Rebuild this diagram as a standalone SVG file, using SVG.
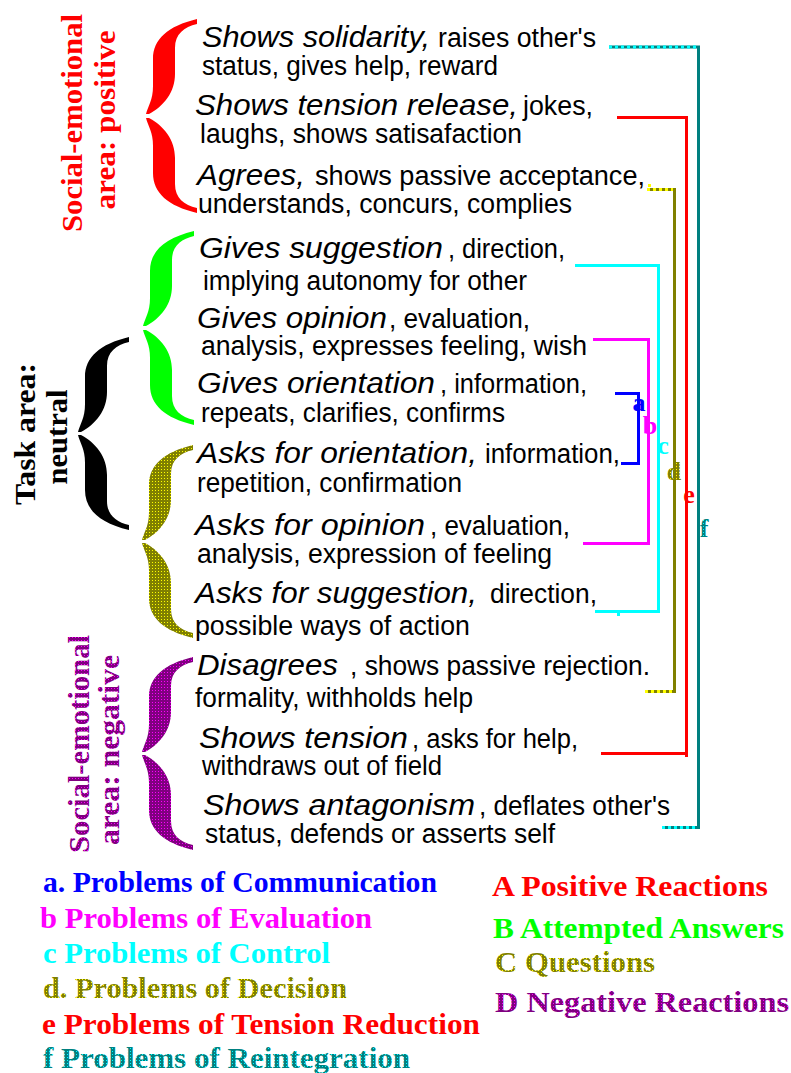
<svg xmlns="http://www.w3.org/2000/svg" xmlns:xlink="http://www.w3.org/1999/xlink" width="791" height="1073" viewBox="0 0 791 1073">
<style>
.i{font-family:"Liberation Sans",Arial,sans-serif;font-style:italic;font-size:30px;fill:#000}
.r{font-family:"Liberation Sans",Arial,sans-serif;font-size:27px;fill:#000}
.lg{font-family:"Liberation Serif","Times New Roman",serif;font-weight:bold;font-size:30px}
.vl{font-family:"Liberation Serif","Times New Roman",serif;font-weight:bold;font-size:29px}
.lt{font-family:"Liberation Serif","Times New Roman",serif;font-weight:bold;font-size:26px;text-anchor:middle}
.br{fill:none;stroke-width:3;stroke-linejoin:miter;stroke-linecap:butt}
</style>
<defs>
<pattern id="pOlive" width="3" height="3" patternUnits="userSpaceOnUse"><rect width="3" height="3" fill="#808000"/><rect x="1" y="1" width="1" height="1" fill="#FFFF00"/></pattern>
<pattern id="pTeal" width="3" height="3" patternUnits="userSpaceOnUse"><rect width="3" height="3" fill="#008080"/><rect x="1" y="1" width="1" height="1" fill="#00FFFF"/></pattern>
<pattern id="pPurple" width="3" height="3" patternUnits="userSpaceOnUse"><rect width="3" height="3" fill="#800080"/><rect x="1" y="1" width="1" height="1" fill="#FF00FF"/></pattern>
<path id="half" d="M0,0 C2,-8 7,-14 7,-28 L7,-55 C7,-75 22,-88 51,-95 L51,-90 C38,-87 29,-80 29,-66 L29,-40 C29,-22 18,-8 3,0 Z"/>
</defs>
<rect width="791" height="1073" fill="#fff"/>

<!-- braces -->
<g id="brace-red" fill="#FF0000" transform="translate(146,116)"><use xlink:href="#half" transform="translate(0,-2)"/><use xlink:href="#half" transform="translate(0,2) scale(1,-1)"/></g>
<g id="brace-green" fill="#00FF00" transform="translate(143,328)"><use xlink:href="#half" transform="translate(0,-2)"/><use xlink:href="#half" transform="translate(0,2) scale(1,-1)"/></g>
<g id="brace-black" fill="#000000" transform="translate(78,433.5)"><use xlink:href="#half" transform="translate(0,-1.5)"/><use xlink:href="#half" transform="translate(0,1.5) scale(1,-1)"/></g>
<g id="brace-olive" fill="url(#pOlive)" transform="translate(142,541.5)"><use xlink:href="#half" transform="translate(0,-1.5)"/><use xlink:href="#half" transform="translate(0,1.5) scale(1,-1)"/></g>
<g id="brace-purple" fill="url(#pPurple)" transform="translate(142,753.5)"><use xlink:href="#half" transform="translate(0,-1.5)"/><use xlink:href="#half" transform="translate(0,1.5) scale(1,-1)"/></g>

<!-- vertical area labels -->
<g id="label-positive" fill="#FF0000">
<text class="vl" transform="translate(82,123) rotate(-90)" text-anchor="middle" textLength="218" lengthAdjust="spacingAndGlyphs">Social-emotional</text>
<text class="vl" transform="translate(115,120) rotate(-90)" text-anchor="middle" textLength="179" lengthAdjust="spacingAndGlyphs">area: positive</text>
</g>
<g id="label-task" fill="#000000">
<text class="vl" style="font-size:30px" transform="translate(35,434) rotate(-90)" text-anchor="middle" textLength="142" lengthAdjust="spacingAndGlyphs">Task area:</text>
<text class="vl" style="font-size:30px" transform="translate(67,437) rotate(-90)" text-anchor="middle" textLength="95" lengthAdjust="spacingAndGlyphs">neutral</text>
</g>
<g id="label-negative" fill="url(#pPurple)">
<text class="vl" transform="translate(89,744) rotate(-90)" text-anchor="middle" textLength="218" lengthAdjust="spacingAndGlyphs">Social-emotional</text>
<text class="vl" transform="translate(119,750) rotate(-90)" text-anchor="middle" textLength="190" lengthAdjust="spacingAndGlyphs">area: negative</text>
</g>

<!-- category rows -->
<g id="row1"><text class="i" x="202" y="47" textLength="228" lengthAdjust="spacingAndGlyphs">Shows solidarity,</text><text class="r" x="438" y="47" textLength="158" lengthAdjust="spacingAndGlyphs">raises other's</text><text class="r" x="202" y="75" textLength="296" lengthAdjust="spacingAndGlyphs">status, gives help, reward</text></g>
<g id="row2"><text class="i" x="195" y="115" textLength="323" lengthAdjust="spacingAndGlyphs">Shows tension release,</text><text class="r" x="523" y="115" textLength="70" lengthAdjust="spacingAndGlyphs">jokes,</text><text class="r" x="200" y="143" textLength="322" lengthAdjust="spacingAndGlyphs">laughs, shows satisafaction</text></g>
<g id="row3"><text class="i" x="197" y="185" textLength="108" lengthAdjust="spacingAndGlyphs">Agrees,</text><text class="r" x="315" y="185" textLength="330" lengthAdjust="spacingAndGlyphs">shows passive acceptance,</text><text class="r" x="198" y="213" textLength="374" lengthAdjust="spacingAndGlyphs">understands, concurs, complies</text></g>
<g id="row4"><text class="i" x="199" y="258" textLength="244" lengthAdjust="spacingAndGlyphs">Gives suggestion</text><text class="r" x="448" y="258" textLength="117" lengthAdjust="spacingAndGlyphs">, direction,</text><text class="r" x="203" y="290" textLength="324" lengthAdjust="spacingAndGlyphs">implying autonomy for other</text></g>
<g id="row5"><text class="i" x="197" y="328" textLength="190" lengthAdjust="spacingAndGlyphs">Gives opinion</text><text class="r" x="389" y="328" textLength="141" lengthAdjust="spacingAndGlyphs">, evaluation,</text><text class="r" x="201" y="355" textLength="386" lengthAdjust="spacingAndGlyphs">analysis, expresses feeling, wish</text></g>
<g id="row6"><text class="i" x="197" y="393" textLength="238" lengthAdjust="spacingAndGlyphs">Gives orientation</text><text class="r" x="440" y="393" textLength="147" lengthAdjust="spacingAndGlyphs">, information,</text><text class="r" x="201" y="422" textLength="304" lengthAdjust="spacingAndGlyphs">repeats, clarifies, confirms</text></g>
<g id="row7"><text class="i" x="197" y="463" textLength="280" lengthAdjust="spacingAndGlyphs">Asks for orientation,</text><text class="r" x="485" y="463" textLength="135" lengthAdjust="spacingAndGlyphs">information,</text><text class="r" x="197" y="492" textLength="265" lengthAdjust="spacingAndGlyphs">repetition, confirmation</text></g>
<g id="row8"><text class="i" x="195" y="535" textLength="230" lengthAdjust="spacingAndGlyphs">Asks for opinion</text><text class="r" x="430" y="535" textLength="140" lengthAdjust="spacingAndGlyphs">, evaluation,</text><text class="r" x="197" y="563" textLength="355" lengthAdjust="spacingAndGlyphs">analysis, expression of feeling</text></g>
<g id="row9"><text class="i" x="195" y="603" textLength="282" lengthAdjust="spacingAndGlyphs">Asks for suggestion,</text><text class="r" x="490" y="603" textLength="107" lengthAdjust="spacingAndGlyphs">direction,</text><text class="r" x="195" y="635" textLength="275" lengthAdjust="spacingAndGlyphs">possible ways of action</text></g>
<g id="row10"><text class="i" x="197" y="675" textLength="141" lengthAdjust="spacingAndGlyphs">Disagrees</text><text class="r" x="350" y="675" textLength="300" lengthAdjust="spacingAndGlyphs">, shows passive rejection.</text><text class="r" x="195" y="707" textLength="278" lengthAdjust="spacingAndGlyphs">formality, withholds help</text></g>
<g id="row11"><text class="i" x="199" y="748" textLength="209" lengthAdjust="spacingAndGlyphs">Shows tension</text><text class="r" x="412" y="748" textLength="166" lengthAdjust="spacingAndGlyphs">, asks for help,</text><text class="r" x="202" y="775" textLength="240" lengthAdjust="spacingAndGlyphs">withdraws out of field</text></g>
<g id="row12"><text class="i" x="203" y="815" textLength="272" lengthAdjust="spacingAndGlyphs">Shows antagonism</text><text class="r" x="479" y="815" textLength="191" lengthAdjust="spacingAndGlyphs">, deflates other's</text><text class="r" x="205" y="843" textLength="350" lengthAdjust="spacingAndGlyphs">status, defends or asserts self</text></g>

<!-- connectors -->
<g id="connectors">
<polyline class="br" stroke="#008080" points="609,47 698.5,47 698.5,827.5 662,827.5"/>
<line x1="609" y1="47" x2="697" y2="47" stroke="#00FFFF" stroke-width="3" stroke-dasharray="3 3"/>
<line x1="662" y1="827.5" x2="697" y2="827.5" stroke="#00FFFF" stroke-width="3" stroke-dasharray="3 3"/>
<polyline class="br" stroke="#FF0000" points="617,117.5 686.5,117.5 686.5,753.5 601,753.5"/>
<rect x="685" y="752" width="3" height="5" fill="#FF0000"/>
<polyline class="br" stroke="#808000" points="647,189.5 674.5,189.5 674.5,691.5 645,691.5"/>
<line x1="647" y1="189.5" x2="673" y2="189.5" stroke="#FFFF00" stroke-width="3" stroke-dasharray="3 3"/>
<line x1="645" y1="691.5" x2="673" y2="691.5" stroke="#FFFF00" stroke-width="3" stroke-dasharray="3 3"/>
<rect x="648" y="184" width="3" height="3" fill="#FFFF00"/>
<polyline class="br" stroke="#00FFFF" points="575,265.5 658.5,265.5 658.5,611.5 595,611.5"/>
<rect x="617" y="613" width="3" height="3" fill="#00FFFF"/>
<polyline class="br" stroke="#FF00FF" points="593,339.5 648.5,339.5 648.5,543.5 583,543.5"/>
<polyline class="br" stroke="#0000FF" points="615,393.5 638.5,393.5 638.5,463.5 621,463.5"/>
<text class="lt" x="639" y="411" fill="#0000FF">a</text>
<text class="lt" x="650" y="434" fill="#FF00FF">b</text>
<text class="lt" x="663" y="454" fill="#00FFFF">c</text>
<text class="lt" x="674" y="480" fill="url(#pOlive)">d</text>
<text class="lt" x="689" y="503" fill="#FF0000">e</text>
<text class="lt" x="704" y="537" fill="url(#pTeal)">f</text>
</g>

<!-- legend -->
<g id="legend-a"><text class="lg" x="43" y="892" fill="#0000FF" textLength="394" lengthAdjust="spacingAndGlyphs">a. Problems of Communication</text></g>
<g id="legend-b"><text class="lg" x="40" y="928" fill="#FF00FF" textLength="332" lengthAdjust="spacingAndGlyphs">b Problems of Evaluation</text></g>
<g id="legend-c"><text class="lg" x="43" y="963" fill="#00FFFF" textLength="287" lengthAdjust="spacingAndGlyphs">c Problems of Control</text></g>
<g id="legend-d"><text class="lg" x="43" y="998" fill="url(#pOlive)" textLength="304" lengthAdjust="spacingAndGlyphs">d. Problems of Decision</text></g>
<g id="legend-e"><text class="lg" x="42" y="1034" fill="#FF0000" textLength="438" lengthAdjust="spacingAndGlyphs">e Problems of Tension Reduction</text></g>
<g id="legend-f"><text class="lg" x="43" y="1068" fill="url(#pTeal)" textLength="367" lengthAdjust="spacingAndGlyphs">f Problems of Reintegration</text></g>
<g id="legend-A"><text class="lg" x="492" y="896" fill="#FF0000" textLength="276" lengthAdjust="spacingAndGlyphs">A Positive Reactions</text></g>
<g id="legend-B"><text class="lg" x="493" y="938" fill="#00FF00" textLength="291" lengthAdjust="spacingAndGlyphs">B Attempted Answers</text></g>
<g id="legend-C"><text class="lg" x="495" y="972" fill="url(#pOlive)" textLength="160" lengthAdjust="spacingAndGlyphs">C Questions</text></g>
<g id="legend-D"><text class="lg" x="495" y="1012" fill="url(#pPurple)" textLength="294" lengthAdjust="spacingAndGlyphs">D Negative Reactions</text></g>
</svg>
